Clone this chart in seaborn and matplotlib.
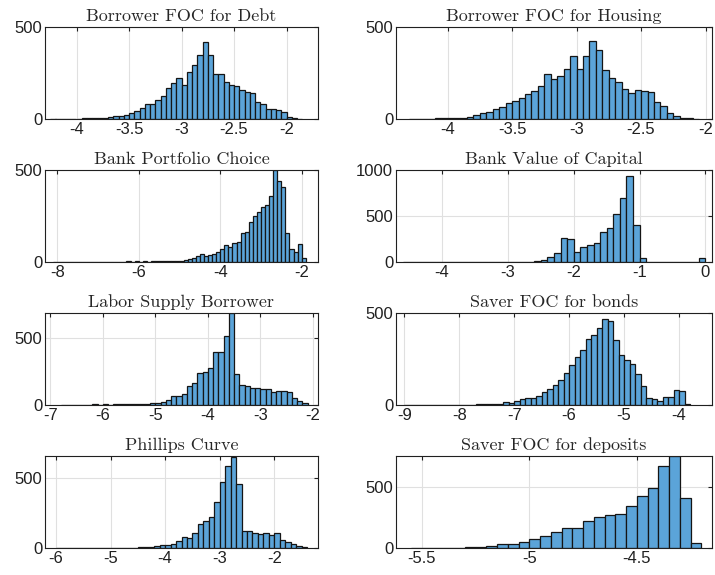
import numpy as np
import pandas as pd
import matplotlib
matplotlib.use("Agg")
import matplotlib.pyplot as plt
import seaborn as sns

titles = ["Borrower FOC for Debt", "Borrower FOC for Housing", "Bank Portfolio Choice",
          "Bank Value of Capital", "Labor Supply Borrower", "Saver FOC for bonds",
          "Phillips Curve", "Saver FOC for deposits"]

debt_start, debt_w = -4.25, 0.05
debt = [1,1,1,1,2,2,3,3,4,5, 8,10,14,18,22,
        30,45,60,81,81,103,124,167,193,225,
        185,255,293,347,419,347,243,243,203,185,
        180,160,145,140,95,80,55,55,50,40, 12,5,2]

hous_start, hous_w = -4.30, 0.05
hous = [1,1,1,2,3,5,
        8,8,8,10,22,30,40,55,65,85,
        100,115,135,150,180,245,215,235,270,340,
        270,340,425,375,265,225,200,165,140,155,
        150,145,95,70,35,15,8,3,1]

port_start, port_w = -8.1, 0.1
port = [2,2,2,2,2,2,2,2,2,2,2,2,2,2,2,2,2,2,3,2,3,2,3,2,3,3,3,3,3,
        4,6,8,10,15,22,30,45,35,40,45,55,70,95,80,105,110,160,165,220,250,270,300,310,360,
        500,440,405,160,70,55,100,20]

cap_start, cap_w = -4.6, 0.1
cap = [3,3,3,3,3,3,3,3,3,3,3,3,3,3,3,3,3,3,3,5,
       10,20,50,100,260,250,110,160,180,210,330,370,520,700,930,400,40,
       5,5,5,5,5,5,5,5,45]

lab_start, lab_w = -6.8, 0.1
lab = [2,2,3,2,3,3,4,3,4,3,4,4,4,
       5,7,8,10,12,18,20,40,70,65,80,140,165,240,250,280,400,400,520,690,
       235,150,140,130,125,120,120,100,105,105,100,55,30,15]

bond_start, bond_w = -9.0, 0.1
bond = [2,2,2,2,2,2,2,2,2,2,2,2,2,3,3,3,3,
        5,15,12,20,30,38,40,50,70,85,110,135,175,215,260,300,360,380,420,
        465,455,355,270,247,223,168,101,40,30,20,42,45,80,75,5]

phil_start, phil_w = -6.0, 0.1
phil = [2,2,2,2,2,2,2,2,2,2,2,3,2,3,3,
        5,8,10,12,25,25,30,50,80,75,105,175,195,220,330,470,590,650,460,
        125,125,110,100,105,95,105,60,40,30,15,5]

dep_start, dep_w = -5.55, 0.05
dep = [2,2,2,2,3,5,10,20,30,35,50,75,100,130,160,165,220,250,270,280,340,420,490,670,750,410,40]

series = [(debt_start, debt_w, debt), (hous_start, hous_w, hous), (port_start, port_w, port),
          (cap_start, cap_w, cap), (lab_start, lab_w, lab), (bond_start, bond_w, bond),
          (phil_start, phil_w, phil), (dep_start, dep_w, dep)]

xlims = [(-4.3, -1.7), (-4.4, -1.95), (-8.3, -1.6), (-4.7, 0.1),
         (-7.1, -1.9), (-9.15, -3.4), (-6.2, -1.2), (-5.62, -4.15)]
ylims = [500, 500, 500, 1000, 690, 500, 660, 750]
xticks = [[-4, -3.5, -3, -2.5, -2], [-4, -3.5, -3, -2.5, -2], [-8, -6, -4, -2],
          [-4, -3, -2, -1, 0], [-7, -6, -5, -4, -3, -2], [-9, -8, -7, -6, -5, -4],
          [-6, -5, -4, -3, -2], [-5.5, -5, -4.5]]
yticks = [[0, 500], [0, 500], [0, 500], [0, 500, 1000], [0, 500], [0, 500], [0, 500], [0, 500]]

sns.set_style("white")
fig = plt.figure(figsize=(7.15, 5.75), dpi=100)
W, H = 715, 575
lefts = [45, 396]
widths = [273, 316]
tops = [27, 170, 313, 456]
bots = [119, 262, 405, 548]

for i, (start, w, counts) in enumerate(series):
    r, c = divmod(i, 2)
    ax = fig.add_axes([lefts[c] / W, 1 - bots[r] / H, widths[c] / W, (bots[r] - tops[r]) / H])
    counts = np.array(counts, dtype=float)
    n = len(counts)
    edges = start + w * np.arange(n + 1)
    centers = (edges[:-1] + edges[1:]) / 2
    df = pd.DataFrame({"x": centers, "n": counts})
    sns.histplot(data=df, x="x", weights="n", bins=[float(e) for e in edges], ax=ax,
                 color="#5ba4d9", alpha=1, edgecolor="#151515", linewidth=0.9)
    ax.set_xlim(*xlims[i])
    ax.set_ylim(0, ylims[i])
    ax.set_xticks(xticks[i])
    ax.set_xticklabels([f"{t:g}" for t in xticks[i]], fontfamily="Liberation Sans", fontsize=12)
    ax.set_yticks(yticks[i])
    ax.set_yticklabels([str(t) for t in yticks[i]], fontfamily="Liberation Sans", fontsize=12)
    ax.set_ylabel("")
    ax.set_xlabel("")
    ax.grid(True, color="#e0e0e0", linewidth=0.8)
    ax.set_axisbelow(True)
    for s in ax.spines.values():
        s.set_visible(True)
        s.set_color("#202020")
        s.set_linewidth(0.8)
    ax.tick_params(axis="both", length=3, direction="in", pad=2, colors="#202020",
                   top=True, right=True)
    ax.set_title(titles[i], fontfamily="cmr10", fontsize=13, pad=4)

fig.savefig("out.png", dpi=100)
